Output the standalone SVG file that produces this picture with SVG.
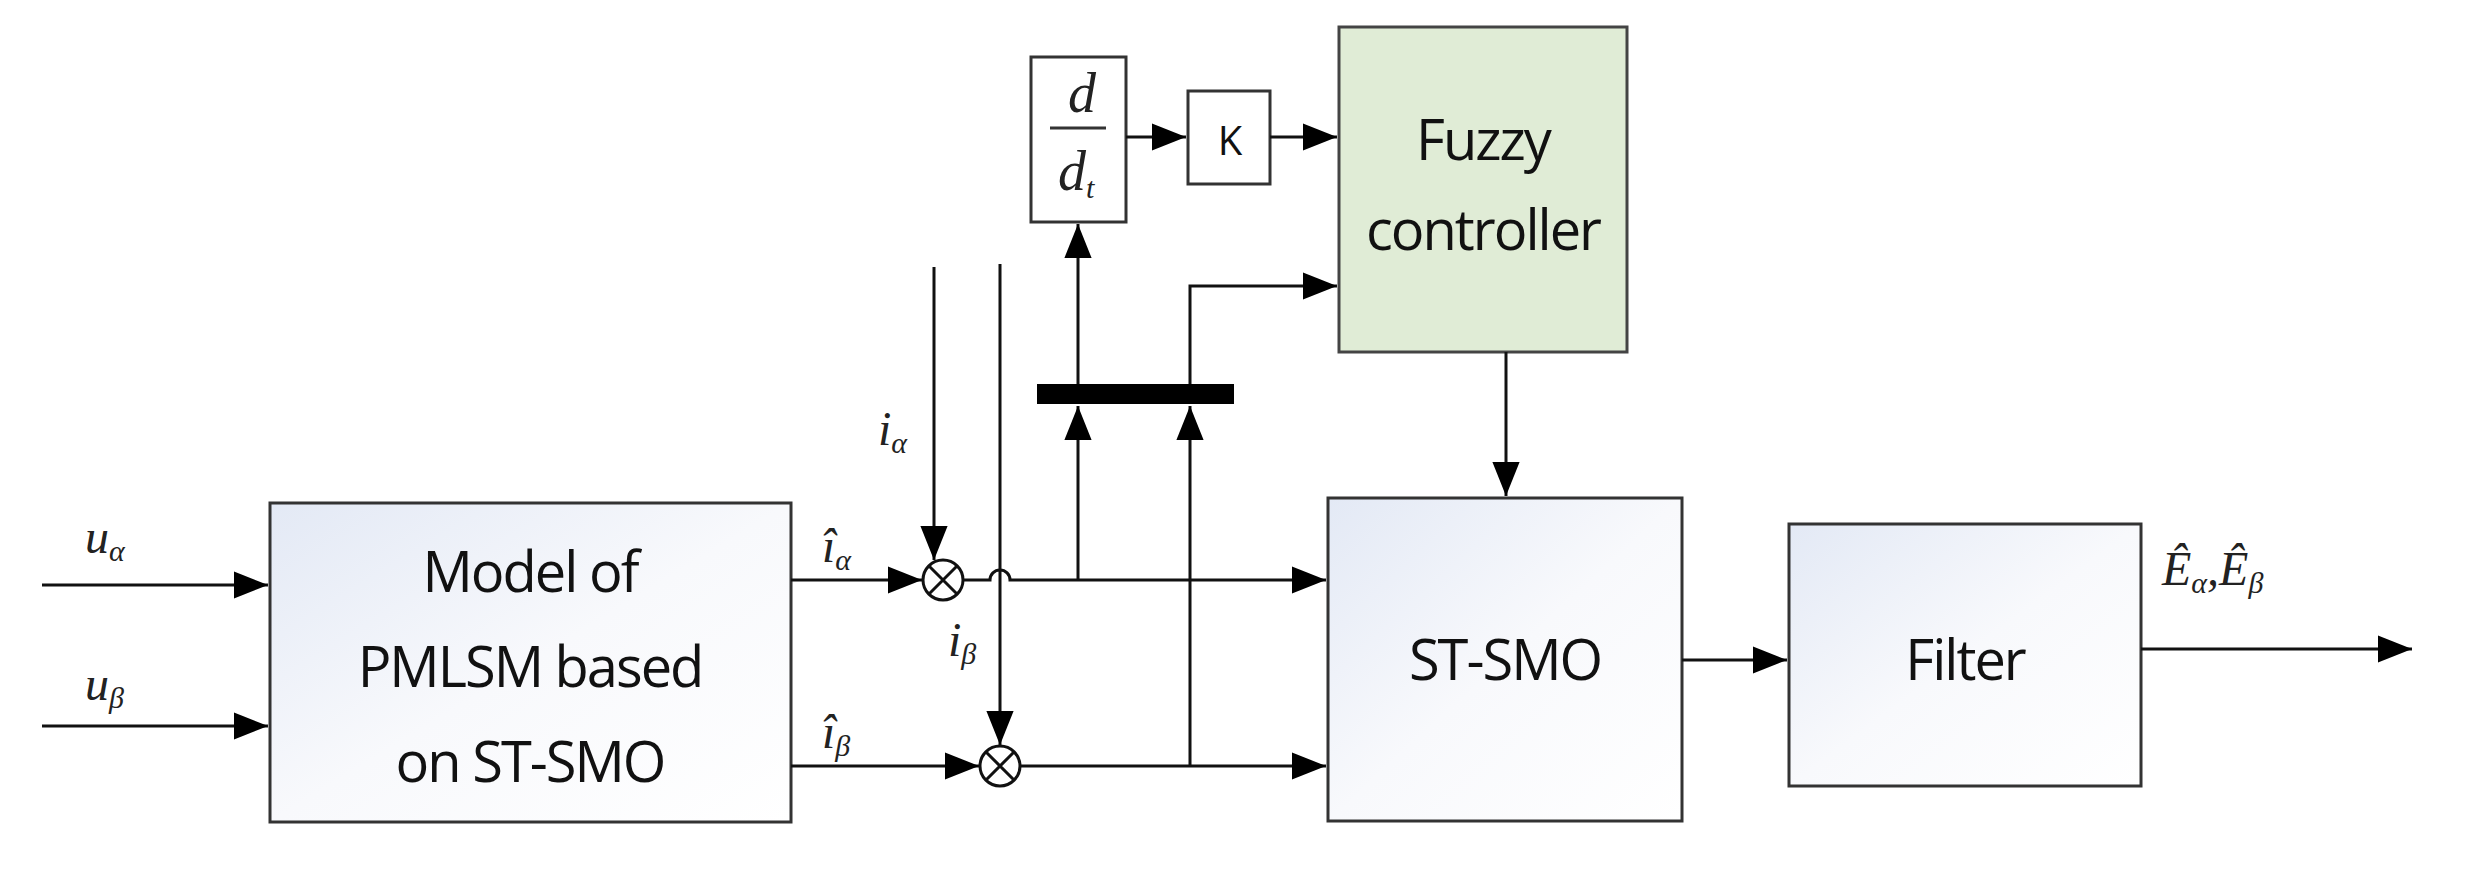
<svg xmlns="http://www.w3.org/2000/svg" width="2465" height="871" viewBox="0 0 2465 871">
<style>
.box{stroke:#333;stroke-width:3;fill:url(#g)}
.ln{stroke:#111;stroke-width:3;fill:none}
.t{font-family:"Open Sans","Liberation Sans",sans-serif;font-size:56px;fill:#111;text-anchor:middle;letter-spacing:-2px}
.m{font-family:"Liberation Serif",serif;font-style:italic;font-size:48px;fill:#222}
.s{font-size:30px}
</style>
<defs>
<linearGradient id="g" x1="0" y1="0" x2="1" y2="1"><stop offset="0" stop-color="#e3e9f5"/><stop offset="0.5" stop-color="#f8f9fc"/><stop offset="1" stop-color="#ffffff"/></linearGradient>
<marker id="A" viewBox="0 0 10 8" refX="10" refY="4" markerWidth="34" markerHeight="28" orient="auto" markerUnits="userSpaceOnUse"><path d="M0,0L10,4L0,8z" fill="#000"/></marker>
</defs>
<g id="model"><rect class="box" x="270" y="503" width="521" height="319"/><text class="t" x="530" y="592">Model of</text><text class="t" x="530" y="687">PMLSM based</text><text class="t" x="530" y="782">on ST-SMO</text></g>
<g id="ddt"><rect x="1031" y="57" width="95" height="165" fill="#fff" stroke="#333" stroke-width="3"/><text class="m" x="1068" y="112" style="font-size:56px">d</text><line x1="1050" y1="128" x2="1106" y2="128" stroke="#333" stroke-width="3"/><text class="m" x="1058" y="190" style="font-size:56px">d<tspan class="s" dy="8">t</tspan></text></g>
<g id="k"><rect x="1188" y="91" width="82" height="93" fill="#fff" stroke="#333" stroke-width="3"/><text class="t" x="1229" y="155" style="font-size:40px">K</text></g>
<g id="fuzzy"><rect x="1339" y="27" width="288" height="325" fill="#e0ecd6" stroke="#444" stroke-width="3"/><text class="t" x="1483" y="160">Fuzzy</text><text class="t" x="1483" y="250">controller</text></g>
<g id="stsmo"><rect class="box" x="1328" y="498" width="354" height="323"/><text class="t" x="1505" y="680">ST-SMO</text></g>
<g id="filter"><rect class="box" x="1789" y="524" width="352" height="262"/><text class="t" x="1965" y="680">Filter</text></g>
<g id="bar"><rect x="1037" y="384" width="197" height="20" fill="#000"/></g>
<g id="mult1"><circle cx="943" cy="580" r="20" fill="#fff" stroke="#111" stroke-width="3"/><path d="M929,566L957,594M957,566L929,594" class="ln"/></g>
<g id="mult2"><circle cx="1000" cy="766" r="20" fill="#fff" stroke="#111" stroke-width="3"/><path d="M986,752L1014,780M1014,752L986,780" class="ln"/></g>
<g id="connectors">
<line class="ln" x1="42" y1="585" x2="268" y2="585" marker-end="url(#A)" stroke-width="4"/>
<line class="ln" x1="42" y1="726" x2="268" y2="726" marker-end="url(#A)" stroke-width="4"/>
<line class="ln" x1="791" y1="580" x2="922" y2="580" marker-end="url(#A)"/>
<line class="ln" x1="791" y1="766" x2="979" y2="766" marker-end="url(#A)"/>
<line class="ln" x1="934" y1="267" x2="934" y2="560" marker-end="url(#A)" stroke-width="2.5"/>
<line class="ln" x1="1000" y1="264" x2="1000" y2="745" marker-end="url(#A)" stroke-width="2.5"/>
<path class="ln" d="M963,580H990A10,10 0 0 1 1010,580H1326" marker-end="url(#A)"/>
<line class="ln" x1="1020" y1="766" x2="1326" y2="766" marker-end="url(#A)"/>
<line class="ln" x1="1078" y1="580" x2="1078" y2="406" marker-end="url(#A)"/>
<line class="ln" x1="1078" y1="384" x2="1078" y2="224" marker-end="url(#A)"/>
<line class="ln" x1="1190" y1="766" x2="1190" y2="406" marker-end="url(#A)"/>
<path class="ln" d="M1190,384V286H1337" marker-end="url(#A)"/>
<line class="ln" x1="1126" y1="137" x2="1186" y2="137" marker-end="url(#A)"/>
<line class="ln" x1="1270" y1="137" x2="1337" y2="137" marker-end="url(#A)"/>
<line class="ln" x1="1506" y1="352" x2="1506" y2="496" marker-end="url(#A)"/>
<line class="ln" x1="1682" y1="660" x2="1787" y2="660" marker-end="url(#A)"/>
<line class="ln" x1="2141" y1="649" x2="2412" y2="649" marker-end="url(#A)"/>
</g>
<g id="labels">
<text class="m" x="85" y="553">u<tspan class="s" dy="8">α</tspan></text>
<text class="m" x="85" y="700">u<tspan class="s" dy="8">β</tspan></text>
<text class="m" x="822" y="562">î<tspan class="s" dy="8">α</tspan></text>
<text class="m" x="822" y="748">î<tspan class="s" dy="8">β</tspan></text>
<text class="m" x="878" y="445">i<tspan class="s" dy="8">α</tspan></text>
<text class="m" x="948" y="656">i<tspan class="s" dy="8">β</tspan></text>
<text class="m" x="2162" y="585">Ê<tspan class="s" dy="8">α</tspan><tspan dy="-8">,Ê</tspan><tspan class="s" dy="8">β</tspan></text>
</g>
</svg>
